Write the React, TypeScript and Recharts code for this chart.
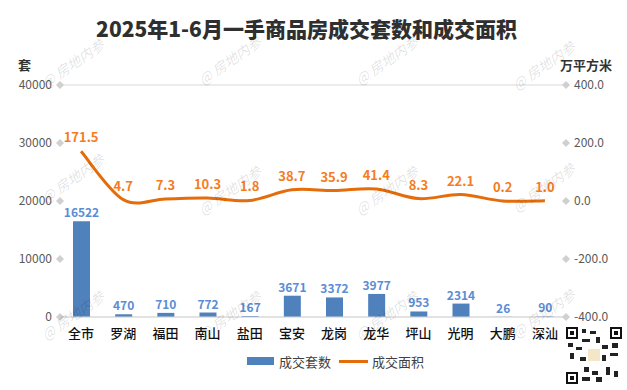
import {
  ComposedChart,
  Bar,
  Line,
  XAxis,
  YAxis,
  CartesianGrid,
  Legend,
  LabelList,
} from "recharts";

const districts = ["全市", "罗湖", "福田", "南山", "盐田", "宝安", "龙岗", "龙华", "坪山", "光明", "大鹏", "深汕"];
const unitCounts = [16522, 470, 710, 772, 167, 3671, 3372, 3977, 953, 2314, 26, 90];
const areaValues = [171.5, 4.7, 7.3, 10.3, 1.8, 38.7, 35.9, 41.4, 8.3, 22.1, 0.2, 1.0];
const unitTicks = [0, 10000, 20000, 30000, 40000];
const areaTicks = [-400, -200, 0, 200, 400];

const data = districts.map((name, i) => ({
  name,
  units: unitCounts[i],
  area: areaValues[i],
}));

const FONT = '"Noto Sans CJK SC", "Noto Sans", sans-serif';
const BAR_BLUE = "#4F81BD";
const LABEL_BLUE = "#5B8DD6";
const LINE_ORANGE = "#E46C0A";
const LABEL_ORANGE = "#F57C1F";

// Excel-style smoothed line (Catmull-Rom through the points)
function excelSmooth(context: any) {
  let pts: number[][] = [];
  return {
    areaStart() {},
    areaEnd() {},
    lineStart() {
      pts = [];
    },
    point(x: number, y: number) {
      pts.push([+x, +y]);
    },
    lineEnd() {
      if (!pts.length) return;
      context.moveTo(pts[0][0], pts[0][1]);
      for (let i = 0; i < pts.length - 1; i++) {
        const p0 = pts[i - 1] || pts[i];
        const p1 = pts[i];
        const p2 = pts[i + 1];
        const p3 = pts[i + 2] || p2;
        context.bezierCurveTo(
          p1[0] + (p2[0] - p0[0]) / 6,
          p1[1] + (p2[1] - p0[1]) / 6,
          p2[0] - (p3[0] - p1[0]) / 6,
          p2[1] - (p3[1] - p1[1]) / 6,
          p2[0],
          p2[1]
        );
      }
    },
  };
}

function Diamond({ x, y }: { x: number; y: number }) {
  return <path d={`M${x - 4},${y} L${x},${y - 4} L${x + 4},${y} L${x},${y + 4} Z`} fill="#D0D0D0" />;
}

function LeftTick({ x, y, payload }: any) {
  return (
    <g>
      <Diamond x={x} y={y} />
      <text x={x - 8} y={y} dy={4} textAnchor="end" fontSize={12} fill="#595959" fontFamily={FONT}>
        {payload.value}
      </text>
    </g>
  );
}

function RightTick({ x, y, payload }: any) {
  return (
    <g>
      <Diamond x={x} y={y} />
      <text x={x + 8} y={y} dy={4} textAnchor="start" fontSize={12} fill="#595959" fontFamily={FONT}>
        {Number(payload.value).toFixed(1)}
      </text>
    </g>
  );
}

function renderLegend() {
  return (
    <div
      style={{
        display: "flex",
        justifyContent: "center",
        alignItems: "center",
        marginLeft: 44,
        fontFamily: FONT,
        fontSize: 13,
        color: "#404040",
        height: 20,
      }}
    >
      <span style={{ width: 27, height: 8, background: BAR_BLUE, marginRight: 5 }} />
      <span style={{ marginRight: 8 }}>成交套数</span>
      <span style={{ width: 29, height: 3, background: LINE_ORANGE, marginRight: 4 }} />
      <span>成交面积</span>
    </div>
  );
}

const marks = [
  [76, 68], [233, 65], [390, 65], [547, 70],
  [76, 183], [233, 195], [390, 195], [547, 192],
  [76, 320], [233, 320], [390, 320], [547, 318],
];

export default function App() {
  return (
    <div style={{ position: "absolute", left: 0, top: 0, width: 627, height: 390, background: "#fff", fontFamily: FONT }}>
      <div
        style={{
          position: "absolute",
          top: 13,
          left: 0,
          width: 613,
          textAlign: "center",
          fontSize: 21,
          fontWeight: 800,
          color: "#2f2f2f",
          lineHeight: "30px",
        }}
      >
        2025年1-6月一手商品房成交套数和成交面积
      </div>
      <div style={{ position: "absolute", top: 55, left: 18, fontSize: 13, fontWeight: 700, color: "#333" }}>套</div>
      <div style={{ position: "absolute", top: 55, left: 560, fontSize: 13, fontWeight: 700, color: "#333" }}>万平方米</div>
      <ComposedChart width={627} height={390} data={data} margin={{ top: 85, right: 0, bottom: 19, left: 0 }}>
        <CartesianGrid vertical={false} stroke="#D9D9D9" />
        <XAxis
          dataKey="name"
          height={34}
          axisLine={{ stroke: "#D9D9D9" }}
          tickLine={false}
          tick={{ fontSize: 13, fill: "#111", fontFamily: FONT, fontWeight: 500 }}
          tickMargin={6}
          interval={0}
        />
        <YAxis
          yAxisId="left"
          width={60}
          domain={[0, 40000]}
          ticks={unitTicks}
          axisLine={false}
          tickLine={false}
          tickSize={0}
          tickMargin={0}
          tick={<LeftTick />}
        />
        <YAxis
          yAxisId="right"
          orientation="right"
          width={61}
          domain={[-400, 400]}
          ticks={areaTicks}
          axisLine={false}
          tickLine={false}
          tickSize={0}
          tickMargin={0}
          tick={<RightTick />}
        />
        <Legend verticalAlign="bottom" height={20} content={renderLegend} />
        <Bar yAxisId="left" dataKey="units" name="成交套数" fill={BAR_BLUE} barSize={17} isAnimationActive={false}>
          <LabelList
            dataKey="units"
            position="top"
            offset={4}
            fill={LABEL_BLUE}
            fontSize={12}
            fontWeight={700}
            fontFamily={FONT}
          />
        </Bar>
        <Line
          yAxisId="right"
          dataKey="area"
          name="成交面积"
          type={excelSmooth as any}
          stroke={LINE_ORANGE}
          strokeWidth={3}
          dot={false}
          activeDot={false}
          isAnimationActive={false}
        >
          <LabelList
            dataKey="area"
            position="top"
            offset={9}
            fill={LABEL_ORANGE}
            fontSize={13}
            fontWeight={700}
            fontFamily={FONT}
            formatter={(v: any) => Number(v).toFixed(1)}
          />
        </Line>
      </ComposedChart>
      <svg width={627} height={390} style={{ position: "absolute", left: 0, top: 0, pointerEvents: "none" }}>
        {marks.map(([mx, my], i) => (
          <text
            key={i}
            x={mx}
            y={my}
            textAnchor="middle"
            fontSize={14}
            fontStyle="italic"
            fill="#000"
            fillOpacity={0.12}
            fontFamily={FONT}
            transform={`rotate(-35 ${mx} ${my})`}
          >
            @ 房地内参
          </text>
        ))}
        <g transform="translate(566,327)">
          <rect width={56} height={57} fill="#fff" />
          {[[0, 0], [44, 0], [0, 45]].map(([fx, fy], i) => (
            <g key={i}>
              <rect x={fx + 1} y={fy + 1} width={10} height={10} fill="none" stroke="#111" strokeWidth={2} />
              <rect x={fx + 4} y={fy + 4} width={4} height={4} fill="#111" />
            </g>
          ))}
          <path d="M16,2h4v4h-4zM24,4h6v3h-6zM16,12h8v3h-8zM30,10h4v6h-4zM2,16h5v4h-5zM10,20h6v3h-6zM36,18h6v4h-6zM46,16h6v5h-6zM4,26h4v6h-4zM14,30h6v4h-6zM36,28h4v6h-4zM44,26h8v3h-8zM18,40h5v5h-5zM26,44h6v4h-6zM40,40h4v8h-4zM48,44h4v6h-4zM16,50h8v4h-8zM30,50h6v5h-6z" fill="#222" />
          <rect x={22} y={22} width={12} height={12} fill="#f3e7c8" />
        </g>
      </svg>
    </div>
  );
}
